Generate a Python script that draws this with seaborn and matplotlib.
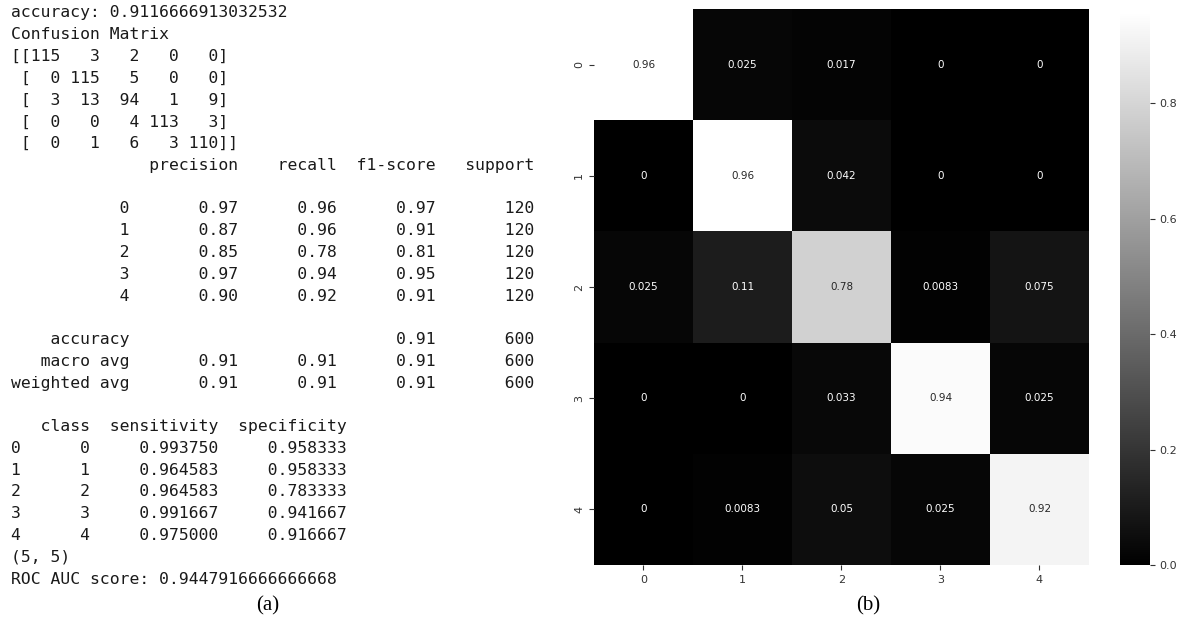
import numpy as np
import pandas as pd
import seaborn as sns
import matplotlib
matplotlib.use("Agg")
import matplotlib.pyplot as plt

# ---- data ----
accuracy = 0.9116666913032532
roc_auc = 0.9447916666666668
classes = ["0", "1", "2", "3", "4"]
conf_counts = [[115, 3, 2, 0, 0],
               [0, 115, 5, 0, 0],
               [3, 13, 94, 1, 9],
               [0, 0, 4, 113, 3],
               [0, 1, 6, 3, 110]]
precision = [0.97, 0.87, 0.85, 0.97, 0.90]
recall = [0.96, 0.96, 0.78, 0.94, 0.92]
f1_score = [0.97, 0.91, 0.81, 0.95, 0.91]
support = [120, 120, 120, 120, 120]
acc_f1 = 0.91
macro_avg = [0.91, 0.91, 0.91]
weighted_avg = [0.91, 0.91, 0.91]
total_support = 600
sensitivity = [0.993750, 0.964583, 0.964583, 0.991667, 0.975000]
specificity = [0.958333, 0.958333, 0.783333, 0.941667, 0.916667]

cm = np.array(conf_counts)
cm_norm = cm / np.array(support)[:, None]

# ---- build the console text (a) ----
lines = []
lines.append("accuracy: " + repr(accuracy))
lines.append("Confusion Matrix")
for i, row in enumerate(conf_counts):
    body = " ".join(f"{v:3d}" for v in row)
    pre = "[[" if i == 0 else " ["
    post = "]]" if i == len(conf_counts) - 1 else "]"
    lines.append(pre + body + post)

w = 12
lines.append(" " * w + " " + "".join(f" {h:>9}" for h in ["precision", "recall", "f1-score", "support"]))
lines.append("")
for c, p, r, f, s in zip(classes, precision, recall, f1_score, support):
    lines.append(f"{c:>{w}s} " + f" {p:>9.2f}" + f" {r:>9.2f}" + f" {f:>9.2f}" + f" {s:>9}")
lines.append("")
lines.append(f"{'accuracy':>{w}s} " + f" {'':>9}" * 2 + f" {acc_f1:>9.2f}" + f" {total_support:>9}")
lines.append(f"{'macro avg':>{w}s} " + "".join(f" {v:>9.2f}" for v in macro_avg) + f" {total_support:>9}")
lines.append(f"{'weighted avg':>{w}s} " + "".join(f" {v:>9.2f}" for v in weighted_avg) + f" {total_support:>9}")
lines.append("")
df = pd.DataFrame({"class": [int(c) for c in classes],
                   "sensitivity": sensitivity,
                   "specificity": specificity})
lines.extend(df.to_string().split("\n"))
lines.append(str(cm.shape))
lines.append("ROC AUC score: " + repr(roc_auc))

W, H = 1179, 624
fig = plt.figure(figsize=(W / 100, H / 100), dpi=100)

y0, dy = 13, 21.77
for i, ln in enumerate(lines):
    fig.text(11 / W, 1 - (y0 + i * dy) / H, ln, family="DejaVu Sans Mono",
             fontsize=11.8, va="center", ha="left", color="#1a1a1a")

# ---- heatmap (b) ----
ax = fig.add_axes([594 / W, 1 - 565 / H, 495 / W, 556 / H])
cax = fig.add_axes([1120 / W, 1 - 565 / H, 30 / W, 553 / H])
sns.heatmap(cm_norm, annot=True, cmap="gray", ax=ax, cbar_ax=cax,
            xticklabels=classes, yticklabels=classes,
            annot_kws={"fontsize": 7.5})
ax.tick_params(labelsize=8, colors="#333333")
cax.tick_params(labelsize=8, colors="#333333")
cax.yaxis.set_ticks([0.0, 0.2, 0.4, 0.6, 0.8])

fig.text(268 / W, 1 - 606 / H, "(a)", family="Liberation Serif", fontsize=15,
         ha="center", va="center")
fig.text(868 / W, 1 - 606 / H, "(b)", family="Liberation Serif", fontsize=15,
         ha="center", va="center")

fig.savefig("out.png", dpi=100)
